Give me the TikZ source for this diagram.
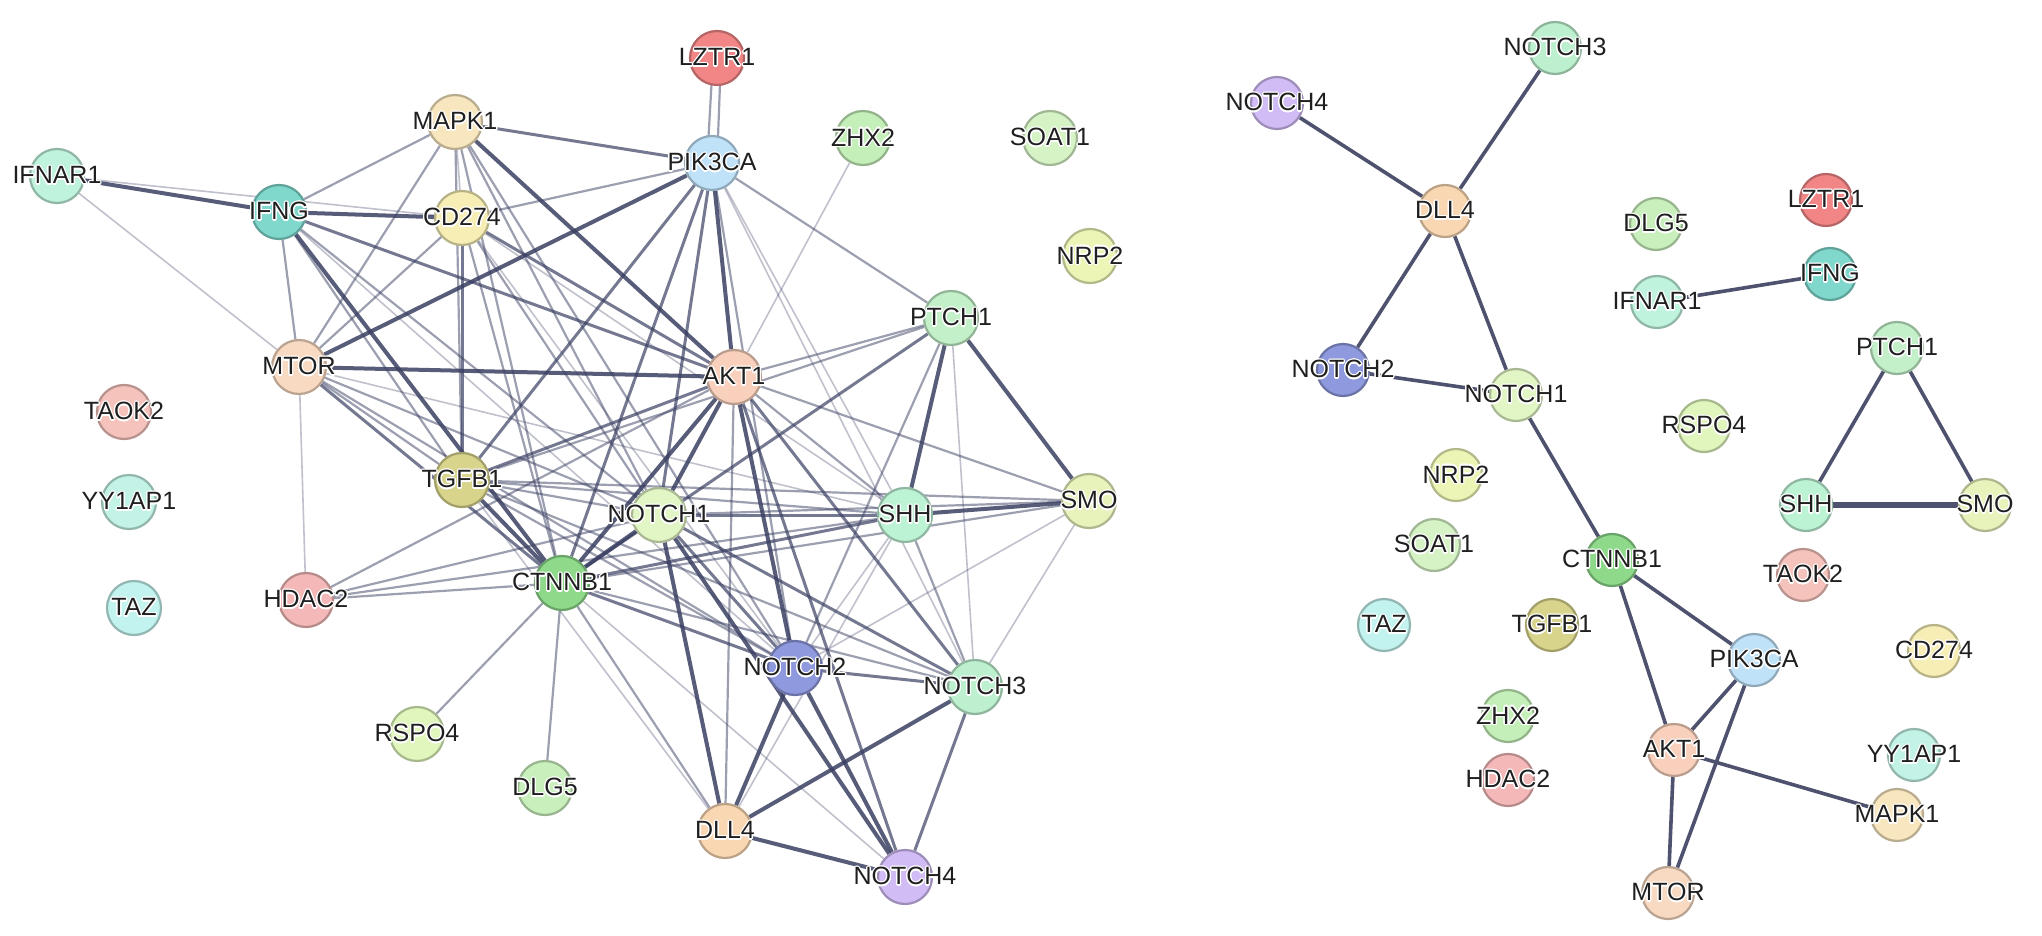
\documentclass[tikz,border=0pt]{standalone}
\usepackage{fontspec}
\setmainfont{Liberation Sans}
\usepackage{contour}
\contourlength{1.3pt}
\contournumber{16}
\pgfdeclarelayer{bg}
\pgfsetlayers{bg,main}
\definecolor{ec}{HTML}{3A3F62}
\definecolor{rc}{HTML}{4E526E}
\definecolor{cLZTR}{HTML}{F28686}
\definecolor{cMAPK}{HTML}{F7E6BE}
\definecolor{cPIK}{HTML}{C0E2F8}
\definecolor{cZHX}{HTML}{C4EFB8}
\definecolor{cSOAT}{HTML}{D6F3C5}
\definecolor{cIFNAR}{HTML}{C0F3DE}
\definecolor{cIFNG}{HTML}{80D7CC}
\definecolor{cCD}{HTML}{F6EEB4}
\definecolor{cNRP}{HTML}{EDF5B6}
\definecolor{cPTCH}{HTML}{C3F0C8}
\definecolor{cMTOR}{HTML}{F8D9C2}
\definecolor{cAKT}{HTML}{F8D0BC}
\definecolor{cTAOK}{HTML}{F6C3BC}
\definecolor{cYY}{HTML}{C3F3E6}
\definecolor{cTGF}{HTML}{D8D48C}
\definecolor{cN1}{HTML}{E2F5C4}
\definecolor{cSHH}{HTML}{BDF3D5}
\definecolor{cSMO}{HTML}{E8F3BC}
\definecolor{cCTN}{HTML}{8ED98A}
\definecolor{cHDAC}{HTML}{F4B8B8}
\definecolor{cTAZ}{HTML}{C3F3EE}
\definecolor{cN2}{HTML}{8F99DE}
\definecolor{cN3}{HTML}{BDF0CF}
\definecolor{cRSPO}{HTML}{E0F6BC}
\definecolor{cDLG}{HTML}{C9F0BC}
\definecolor{cDLL}{HTML}{F9D7B2}
\definecolor{cN4}{HTML}{D1BCF5}
\tikzset{
  gn/.style={circle, minimum size=54pt, inner sep=0pt, line width=2.2pt},
  gr/.style={circle, minimum size=52pt, inner sep=0pt, line width=2.2pt},
  lbl/.style={font=\fontsize{25}{25}\selectfont, text=black!88, inner sep=0pt},
  e3/.style={draw=ec, line width=4pt, opacity=0.85},
  e2/.style={draw=ec, line width=3pt, opacity=0.7},
  e1/.style={draw=ec, line width=2.2pt, opacity=0.5},
  e0/.style={draw=ec, line width=1.6pt, opacity=0.32},
  er/.style={draw=rc, line width=3.6pt},
  erx/.style={draw=rc, line width=5.5pt},
}
\newcommand\gnode[5]{\node[gn, fill=#4, draw=#4!75!black, label={[lbl]center:\contour{white}{#5}}] (#1) at (#2,#3) {};}
\newcommand\rnode[5]{\node[gr, fill=#4, draw=#4!75!black, label={[lbl]center:\contour{white}{#5}}] (#1) at (#2,#3) {};}
\newcommand\ed[3]{\draw[#1] (#2) -- (#3);}
\begin{document}
\begin{tikzpicture}[x=1pt,y=-1pt]
\useasboundingbox (0,0) rectangle (2042,936);
% ---------- left network nodes ----------
\gnode{LZTR1}{717}{58}{cLZTR}{LZTR1}
\gnode{MAPK1}{455}{122}{cMAPK}{MAPK1}
\gnode{PIK3CA}{712}{163}{cPIK}{PIK3CA}
\gnode{ZHX2}{863}{138}{cZHX}{ZHX2}
\gnode{SOAT1}{1050}{138}{cSOAT}{SOAT1}
\gnode{IFNAR1}{57}{176}{cIFNAR}{IFNAR1}
\gnode{IFNG}{279}{212}{cIFNG}{IFNG}
\gnode{CD274}{462}{218}{cCD}{CD274}
\gnode{NRP2}{1090}{256}{cNRP}{NRP2}
\gnode{PTCH1}{951}{318}{cPTCH}{PTCH1}
\gnode{MTOR}{299}{367}{cMTOR}{MTOR}
\gnode{AKT1}{734}{377}{cAKT}{AKT1}
\gnode{TAOK2}{124}{412}{cTAOK}{TAOK2}
\gnode{TGFB1}{462}{480}{cTGF}{TGFB1}
\gnode{YY1AP1}{129}{502}{cYY}{YY1AP1}
\gnode{NOTCH1}{659}{515}{cN1}{NOTCH1}
\gnode{SHH}{905}{515}{cSHH}{SHH}
\gnode{SMO}{1089}{501}{cSMO}{SMO}
\gnode{CTNNB1}{562}{583}{cCTN}{CTNNB1}
\gnode{HDAC2}{306}{600}{cHDAC}{HDAC2}
\gnode{TAZ}{134}{608}{cTAZ}{TAZ}
\gnode{NOTCH2}{795}{668}{cN2}{NOTCH2}
\gnode{NOTCH3}{975}{687}{cN3}{NOTCH3}
\gnode{RSPO4}{417}{734}{cRSPO}{RSPO4}
\gnode{DLG5}{545}{788}{cDLG}{DLG5}
\gnode{DLL4}{725}{831}{cDLL}{DLL4}
\gnode{NOTCH4}{905}{877}{cN4}{NOTCH4}
% ---------- right network nodes ----------
\rnode{rNOTCH3}{1555}{48}{cN3}{NOTCH3}
\rnode{rNOTCH4}{1277}{103}{cN4}{NOTCH4}
\rnode{rDLL4}{1445}{211}{cDLL}{DLL4}
\rnode{rDLG5}{1656}{224}{cDLG}{DLG5}
\rnode{rLZTR1}{1826}{200}{cLZTR}{LZTR1}
\rnode{rIFNG}{1830}{274}{cIFNG}{IFNG}
\rnode{rIFNAR1}{1657}{302}{cIFNAR}{IFNAR1}
\rnode{rPTCH1}{1897}{348}{cPTCH}{PTCH1}
\rnode{rNOTCH2}{1343}{370}{cN2}{NOTCH2}
\rnode{rNOTCH1}{1516}{395}{cN1}{NOTCH1}
\rnode{rRSPO4}{1704}{426}{cRSPO}{RSPO4}
\rnode{rNRP2}{1456}{475}{cNRP}{NRP2}
\rnode{rSHH}{1806}{505}{cSHH}{SHH}
\rnode{rSMO}{1985}{505}{cSMO}{SMO}
\rnode{rSOAT1}{1434}{545}{cSOAT}{SOAT1}
\rnode{rCTNNB1}{1612}{560}{cCTN}{CTNNB1}
\rnode{rTAOK2}{1803}{575}{cTAOK}{TAOK2}
\rnode{rTAZ}{1384}{625}{cTAZ}{TAZ}
\rnode{rTGFB1}{1552}{625}{cTGF}{TGFB1}
\rnode{rPIK3CA}{1754}{660}{cPIK}{PIK3CA}
\rnode{rCD274}{1934}{651}{cCD}{CD274}
\rnode{rZHX2}{1508}{716}{cZHX}{ZHX2}
\rnode{rAKT1}{1674}{750}{cAKT}{AKT1}
\rnode{rYY1AP1}{1914}{755}{cYY}{YY1AP1}
\rnode{rHDAC2}{1508}{780}{cHDAC}{HDAC2}
\rnode{rMAPK1}{1897}{815}{cMAPK}{MAPK1}
\rnode{rMTOR}{1668}{893}{cMTOR}{MTOR}
% ---------- edges ----------
\begin{pgfonlayer}{bg}
\draw[e1] ([xshift=-4pt]LZTR1.center) -- ([xshift=-5pt]PIK3CA.center);
\draw[e1] ([xshift=4pt]LZTR1.center) -- ([xshift=5pt]PIK3CA.center);
\ed{e2}{MAPK1}{PIK3CA}
\ed{e1}{MAPK1}{IFNG}
\ed{e0}{MAPK1}{CD274}
\ed{e1}{MAPK1}{MTOR}
\ed{e3}{MAPK1}{AKT1}
\ed{e1}{MAPK1}{TGFB1}
\ed{e1}{MAPK1}{CTNNB1}
\ed{e1}{MAPK1}{NOTCH1}
\ed{e1}{MAPK1}{NOTCH2}
\ed{e3}{IFNAR1}{IFNG}
\ed{e0}{IFNAR1}{CD274}
\ed{e0}{IFNAR1}{MTOR}
\ed{e3}{IFNG}{CD274}
\ed{e1}{IFNG}{MTOR}
\ed{e3}{IFNG}{CTNNB1}
\ed{e1}{IFNG}{TGFB1}
\ed{e2}{IFNG}{AKT1}
\ed{e1}{IFNG}{NOTCH1}
\ed{e0}{IFNG}{NOTCH2}
\ed{e1}{CD274}{PIK3CA}
\ed{e1}{CD274}{MTOR}
\ed{e2}{CD274}{TGFB1}
\ed{e2}{CD274}{AKT1}
\ed{e1}{CD274}{CTNNB1}
\ed{e1}{CD274}{NOTCH1}
\ed{e0}{CD274}{NOTCH2}
\ed{e0}{CD274}{SHH}
\ed{e3}{MTOR}{PIK3CA}
\ed{e3}{MTOR}{AKT1}
\ed{e0}{MTOR}{HDAC2}
\ed{e1}{MTOR}{TGFB1}
\ed{e2}{MTOR}{CTNNB1}
\ed{e1}{MTOR}{NOTCH1}
\ed{e1}{MTOR}{NOTCH2}
\ed{e0}{MTOR}{SHH}
\ed{e3}{PIK3CA}{AKT1}
\ed{e2}{PIK3CA}{CTNNB1}
\ed{e2}{PIK3CA}{TGFB1}
\ed{e2}{PIK3CA}{NOTCH1}
\ed{e1}{PIK3CA}{PTCH1}
\ed{e0}{PIK3CA}{NOTCH3}
\ed{e1}{PIK3CA}{NOTCH2}
\ed{e0}{PIK3CA}{SHH}
\ed{e0}{ZHX2}{AKT1}
\ed{e1}{AKT1}{PTCH1}
\ed{e2}{AKT1}{TGFB1}
\ed{e3}{AKT1}{CTNNB1}
\ed{e3}{AKT1}{NOTCH1}
\ed{e1}{AKT1}{SHH}
\ed{e1}{AKT1}{SMO}
\ed{e3}{AKT1}{NOTCH2}
\ed{e2}{AKT1}{NOTCH3}
\ed{e1}{AKT1}{DLL4}
\ed{e2}{AKT1}{NOTCH4}
\ed{e1}{AKT1}{HDAC2}
\ed{e3}{PTCH1}{SHH}
\ed{e3}{PTCH1}{SMO}
\ed{e2}{PTCH1}{CTNNB1}
\ed{e1}{PTCH1}{NOTCH2}
\ed{e0}{PTCH1}{NOTCH3}
\ed{e1}{PTCH1}{TGFB1}
\ed{e3}{SHH}{SMO}
\ed{e2}{SHH}{NOTCH1}
\ed{e2}{SHH}{CTNNB1}
\ed{e1}{SHH}{TGFB1}
\ed{e0}{SHH}{NOTCH2}
\ed{e1}{SHH}{NOTCH3}
\ed{e0}{SHH}{DLL4}
\ed{e1}{SHH}{HDAC2}
\ed{e1}{SMO}{NOTCH1}
\ed{e0}{SMO}{NOTCH3}
\ed{e0}{SMO}{NOTCH2}
\ed{e1}{SMO}{CTNNB1}
\ed{e1}{SMO}{TGFB1}
\ed{e3}{NOTCH1}{CTNNB1}
\ed{e1}{NOTCH1}{TGFB1}
\ed{e2}{NOTCH1}{NOTCH2}
\ed{e2}{NOTCH1}{NOTCH3}
\ed{e3}{NOTCH1}{DLL4}
\ed{e3}{NOTCH1}{NOTCH4}
\ed{e1}{NOTCH1}{HDAC2}
\ed{e3}{CTNNB1}{TGFB1}
\ed{e1}{CTNNB1}{HDAC2}
\ed{e1}{CTNNB1}{RSPO4}
\ed{e1}{CTNNB1}{DLG5}
\ed{e2}{CTNNB1}{NOTCH2}
\ed{e1}{CTNNB1}{NOTCH3}
\ed{e1}{CTNNB1}{DLL4}
\ed{e0}{CTNNB1}{NOTCH4}
\ed{e1}{TGFB1}{NOTCH2}
\ed{e1}{TGFB1}{NOTCH3}
\ed{e0}{TGFB1}{DLL4}
\ed{e2}{NOTCH2}{NOTCH3}
\ed{e3}{NOTCH2}{DLL4}
\ed{e3}{NOTCH2}{NOTCH4}
\ed{e3}{NOTCH3}{DLL4}
\ed{e2}{NOTCH3}{NOTCH4}
\ed{e3}{DLL4}{NOTCH4}
% right network
\ed{er}{rNOTCH4}{rDLL4}
\ed{er}{rNOTCH3}{rDLL4}
\ed{er}{rDLL4}{rNOTCH2}
\ed{er}{rDLL4}{rNOTCH1}
\ed{er}{rNOTCH2}{rNOTCH1}
\ed{er}{rNOTCH1}{rCTNNB1}
\ed{er}{rIFNAR1}{rIFNG}
\ed{er}{rPTCH1}{rSHH}
\ed{er}{rPTCH1}{rSMO}
\ed{erx}{rSHH}{rSMO}
\ed{er}{rCTNNB1}{rPIK3CA}
\ed{er}{rCTNNB1}{rAKT1}
\ed{er}{rPIK3CA}{rAKT1}
\ed{er}{rPIK3CA}{rMTOR}
\ed{er}{rAKT1}{rMTOR}
\ed{er}{rAKT1}{rMAPK1}
\end{pgfonlayer}
\end{tikzpicture}
\end{document}
